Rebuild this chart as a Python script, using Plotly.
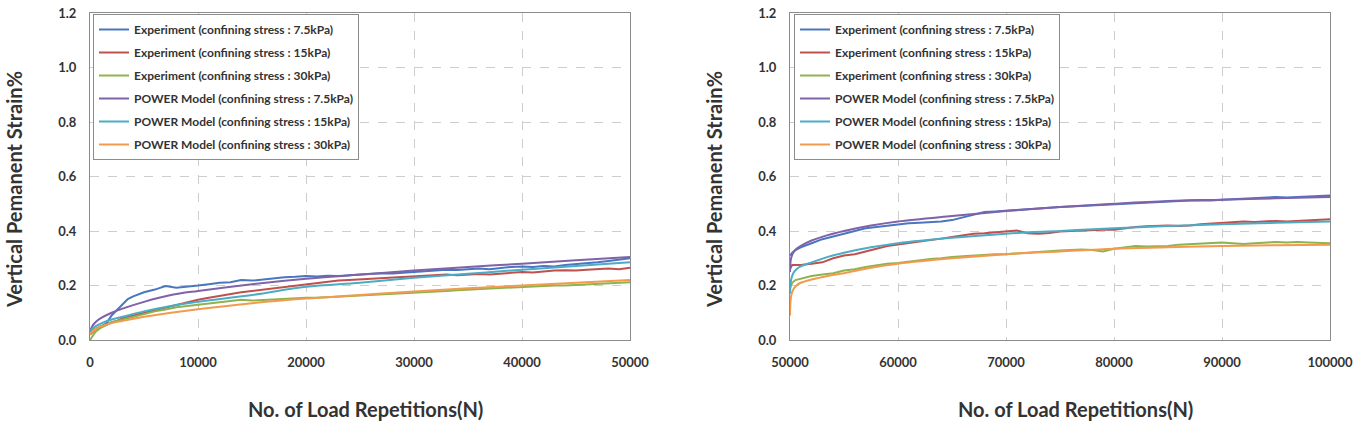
import plotly.graph_objects as go

# ---------------- data ----------------
names = [
    "Experiment (confining stress : 7.5kPa)",
    "Experiment (confining stress : 15kPa)",
    "Experiment (confining stress : 30kPa)",
    "POWER Model (confining stress : 7.5kPa)",
    "POWER Model (confining stress : 15kPa)",
    "POWER Model (confining stress : 30kPa)",
]
colors = ["#4A76C0", "#C0504D", "#8DB34F", "#7F62A8", "#4BACC6", "#F39A4E"]

# Left panel (0 - 50000)
x_exp_l = [0, 500, 1000, 1500, 2000, 2500, 3000, 3500, 4000] + list(range(5000, 50001, 1000))
exp75_l = [0.02, 0.04, 0.05, 0.06, 0.09, 0.11, 0.13, 0.15, 0.16,
           0.175, 0.185, 0.198, 0.192, 0.195, 0.2, 0.205, 0.21, 0.212, 0.22, 0.218,
           0.222, 0.228, 0.23, 0.232, 0.235, 0.233, 0.236, 0.235, 0.238, 0.24,
           0.243, 0.245, 0.244, 0.248, 0.25, 0.252, 0.255, 0.258, 0.257, 0.26,
           0.262, 0.26, 0.265, 0.268, 0.27, 0.268, 0.272, 0.27, 0.275, 0.278,
           0.282, 0.285, 0.29, 0.295, 0.3]
exp15_l = [0.02, 0.04, 0.05, 0.055, 0.065, 0.07, 0.08, 0.085, 0.09,
           0.1, 0.11, 0.12, 0.13, 0.14, 0.148, 0.155, 0.162, 0.168, 0.175, 0.18,
           0.185, 0.19, 0.195, 0.2, 0.205, 0.21, 0.215, 0.218, 0.22, 0.222,
           0.225, 0.226, 0.228, 0.23, 0.232, 0.235, 0.237, 0.24, 0.238, 0.24,
           0.242, 0.24, 0.244, 0.248, 0.25, 0.248, 0.252, 0.255, 0.256, 0.255,
           0.258, 0.26, 0.262, 0.26, 0.265]
exp30_l = [0.0, 0.03, 0.045, 0.055, 0.065, 0.07, 0.075, 0.08, 0.085,
           0.095, 0.105, 0.112, 0.12, 0.125, 0.13, 0.135, 0.14, 0.145, 0.148, 0.145,
           0.147, 0.15, 0.152, 0.153, 0.155, 0.155, 0.157, 0.16, 0.162, 0.163,
           0.165, 0.166, 0.168, 0.17, 0.173, 0.175, 0.178, 0.18, 0.183, 0.185,
           0.185, 0.188, 0.19, 0.192, 0.195, 0.195, 0.197, 0.2, 0.2, 0.202,
           0.205, 0.207, 0.208, 0.21, 0.212]
x_mod_l = [0, 200, 500, 1000, 2000, 3000, 5000, 7500, 10000, 15000, 20000,
           25000, 30000, 35000, 40000, 45000, 50000]
mod75_l = [0.03, 0.05, 0.065, 0.08, 0.1, 0.115, 0.14, 0.165, 0.18, 0.205, 0.225,
           0.24, 0.255, 0.268, 0.28, 0.293, 0.305]
mod15_l = [0.03, 0.04, 0.05, 0.06, 0.075, 0.085, 0.105, 0.125, 0.14, 0.165, 0.195,
           0.21, 0.228, 0.243, 0.258, 0.272, 0.285]
mod30_l = [0.02, 0.03, 0.04, 0.05, 0.062, 0.07, 0.085, 0.1, 0.113, 0.135, 0.152,
           0.165, 0.178, 0.19, 0.2, 0.21, 0.22]

# Right panel (50000 - 100000)
x_exp_r = [50000, 50200, 50500] + list(range(51000, 100001, 1000))
exp75_r = [0.31, 0.32, 0.33, 0.34, 0.355, 0.37, 0.38, 0.39, 0.4, 0.41, 0.415, 0.42,
           0.425, 0.428, 0.43, 0.432, 0.435, 0.44, 0.45, 0.46, 0.47, 0.472, 0.475,
           0.478, 0.48, 0.483, 0.485, 0.488, 0.49, 0.492, 0.495, 0.497, 0.5, 0.5,
           0.503, 0.505, 0.508, 0.51, 0.51, 0.512, 0.513, 0.512, 0.515, 0.517,
           0.518, 0.52, 0.522, 0.525, 0.523, 0.525, 0.527, 0.53, 0.53]
exp15_r = [0.26, 0.275, 0.275, 0.275, 0.28, 0.285, 0.3, 0.31, 0.315, 0.325, 0.335,
           0.345, 0.35, 0.355, 0.36, 0.365, 0.372, 0.378, 0.385, 0.39, 0.392, 0.395,
           0.4, 0.402, 0.392, 0.39, 0.393, 0.398, 0.4, 0.402, 0.403, 0.405, 0.405,
           0.41, 0.415, 0.417, 0.418, 0.42, 0.418, 0.42, 0.425, 0.428, 0.43, 0.432,
           0.435, 0.433, 0.435, 0.437, 0.435, 0.437, 0.438, 0.44, 0.443]
exp30_r = [0.19, 0.21, 0.22, 0.225, 0.235, 0.24, 0.245, 0.255, 0.26, 0.268, 0.275,
           0.28, 0.283, 0.288, 0.292, 0.297, 0.3, 0.305, 0.307, 0.31, 0.312, 0.315,
           0.315, 0.318, 0.32, 0.322, 0.325, 0.328, 0.33, 0.332, 0.33, 0.325, 0.335,
           0.34, 0.345, 0.343, 0.345, 0.345, 0.35, 0.352, 0.355, 0.355, 0.358,
           0.355, 0.352, 0.355, 0.357, 0.36, 0.358, 0.36, 0.358, 0.357, 0.355]
x_mod_r = [50000, 50100, 50300, 50600, 51000, 52000, 53500, 55000, 57500, 60000,
           65000, 70000, 75000, 80000, 85000, 90000, 95000, 100000]
mod75_r = [0.25, 0.3, 0.32, 0.335, 0.345, 0.365, 0.385, 0.4, 0.42, 0.435, 0.455,
           0.473, 0.488, 0.5, 0.51, 0.515, 0.52, 0.525]
mod15_r = [0.17, 0.22, 0.245, 0.26, 0.27, 0.285, 0.305, 0.32, 0.34, 0.355, 0.375,
           0.39, 0.4, 0.41, 0.418, 0.425, 0.43, 0.435]
mod30_r = [0.09, 0.16, 0.185, 0.2, 0.21, 0.222, 0.235, 0.245, 0.265, 0.28, 0.3,
           0.315, 0.325, 0.335, 0.34, 0.345, 0.348, 0.35]

y_ticks = [0.0, 0.2, 0.4, 0.6, 0.8, 1.0, 1.2]
x_ticks_l = [0, 10000, 20000, 30000, 40000, 50000]
x_ticks_r = [50000, 60000, 70000, 80000, 90000, 100000]

x_title = "No. of Load Repetitions(N)"
y_title = "Vertical Pemanent Strain%"

# ---------------- figure ----------------
FONT = "Lato"
TXT = "#333333"
fig = go.Figure()

left_series = [(x_exp_l, exp75_l), (x_exp_l, exp15_l), (x_exp_l, exp30_l),
               (x_mod_l, mod75_l), (x_mod_l, mod15_l), (x_mod_l, mod30_l)]
right_series = [(x_exp_r, exp75_r), (x_exp_r, exp15_r), (x_exp_r, exp30_r),
                (x_mod_r, mod75_r), (x_mod_r, mod15_r), (x_mod_r, mod30_r)]

for i, (xs, ys) in enumerate(left_series):
    fig.add_trace(go.Scatter(x=xs, y=ys, mode="lines", name=names[i],
                             line=dict(color=colors[i], width=2, shape="spline" if i >= 3 else "linear"),
                             xaxis="x", yaxis="y", legend="legend", legendgroup="l%d" % i))
for i, (xs, ys) in enumerate(right_series):
    fig.add_trace(go.Scatter(x=xs, y=ys, mode="lines", name=names[i],
                             line=dict(color=colors[i], width=2, shape="spline" if i >= 3 else "linear"),
                             xaxis="x2", yaxis="y2", legend="legend2", legendgroup="r%d" % i))

W, H = 1358, 443
top_px, bot_px = 13, 340
ydom = [1 - bot_px / H, 1 - top_px / H]

axis_common = dict(
    showgrid=True, gridcolor="#CDCDCD", griddash="dash", gridwidth=1,
    showline=True, linecolor="#8C8C8C", linewidth=1, mirror=True,
    ticks="", zeroline=False, automargin=False,
    tickfont=dict(family=FONT, size=13, color=TXT, weight="bold"),
)

legend_common = dict(
    xanchor="left", yanchor="top",
    bgcolor="white", bordercolor="#8C8C8C", borderwidth=1,
    font=dict(family=FONT, size=12, color=TXT, weight="bold"),
    tracegroupgap=4, itemwidth=30,
)

fig.update_layout(
    width=W, height=H,
    margin=dict(l=0, r=0, t=0, b=0, autoexpand=False),
    paper_bgcolor="white", plot_bgcolor="white",
    font=dict(family=FONT, color=TXT),
    xaxis=dict(domain=[90 / W, 630 / W], range=[0, 50000], tickvals=x_ticks_l,
               ticktext=[str(v) for v in x_ticks_l], anchor="y", ticklabelstandoff=10, **axis_common),
    yaxis=dict(domain=ydom, range=[0, 1.2], tickvals=y_ticks,
               ticktext=["%.1f" % v for v in y_ticks], anchor="x", ticklabelstandoff=10, **axis_common),
    xaxis2=dict(domain=[790 / W, 1330 / W], range=[50000, 100000], tickvals=x_ticks_r,
                ticktext=[str(v) for v in x_ticks_r], anchor="y2", ticklabelstandoff=10, **axis_common),
    yaxis2=dict(domain=ydom, range=[0, 1.2], tickvals=y_ticks,
                ticktext=["%.1f" % v for v in y_ticks], anchor="x2", ticklabelstandoff=10, **axis_common),
    legend=dict(x=93 / W, y=1 - 14 / H, **legend_common),
    legend2=dict(x=794 / W, y=1 - 14 / H, **legend_common),
    showlegend=True,
)

title_font = dict(family=FONT, size=20, color=TXT, weight="bold")
for cx in [365, 1075]:
    fig.add_annotation(x=cx / W, y=1 - 409 / H, xref="paper", yref="paper",
                       text=x_title, showarrow=False, font=title_font,
                       xanchor="center", yanchor="middle")
for cx in [14, 714]:
    fig.add_annotation(x=cx / W, y=1 - 190 / H, xref="paper", yref="paper",
                       text=y_title, showarrow=False, font=title_font, textangle=-90,
                       xanchor="center", yanchor="middle")

fig.write_html("out.html")
